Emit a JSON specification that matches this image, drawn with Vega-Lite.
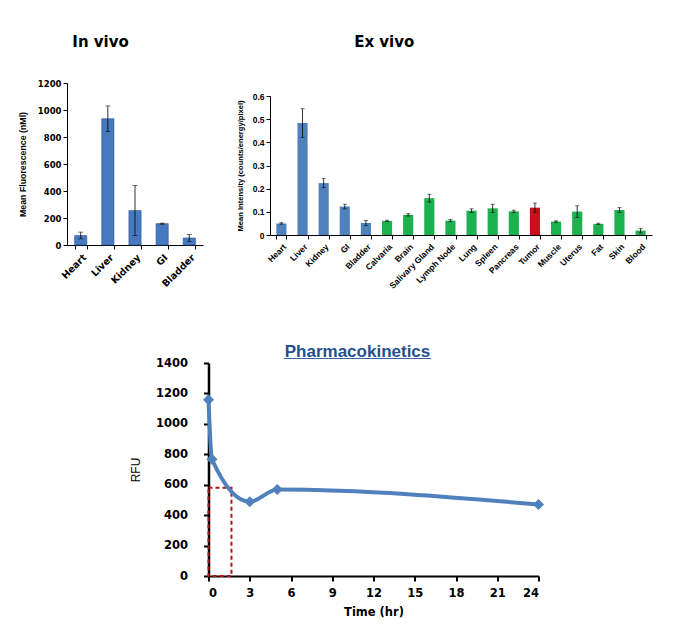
{
  "$schema": "https://vega.github.io/schema/vega-lite/v6.json",
  "background": "white",
  "padding": {"left": 18, "top": 35, "right": 5, "bottom": 5},
  "config": {
    "view": {"stroke": null},
    "font": "Liberation Sans",
    "axis": {"grid": false, "labelOverlap": false, "domainColor": "black", "tickColor": "black", "labelColor": "black", "titleColor": "black", "labelFontWeight": "bold", "titleFontWeight": "bold", "labelFont": "Liberation Sans", "titleFont": "Liberation Sans"}
  },
  "spacing": 53,
  "center": true,
  "vconcat": [
    {
      "spacing": 33,
      "hconcat": [
        {
          "title": {"text": "In vivo", "font": "DejaVu Sans", "fontSize": 15, "fontWeight": "bold", "anchor": "start", "dx": 54, "offset": 29, "color": "black"},
          "width": 136,
          "height": 162,
          "data": {"values": [
            {"organ": "Heart", "value": 70, "err": 25},
            {"organ": "Liver", "value": 935, "err": 95},
            {"organ": "Kidney", "value": 255, "err": 185},
            {"organ": "GI", "value": 158, "err": 4},
            {"organ": "Bladder", "value": 52, "err": 25}
          ]},
          "layer": [
            {
              "mark": {"type": "bar", "color": "#4679c0", "stroke": "#2f5597", "strokeWidth": 0.6},
              "encoding": {
                "x": {"field": "organ", "type": "nominal", "sort": null, "scale": {"paddingInner": 0.55, "paddingOuter": 0.28},
                  "axis": {"title": null, "labelAngle": -45, "tickBand": "extent", "labelFont": "DejaVu Sans", "labelFontSize": 9.5, "tickSize": 4, "labelPadding": 3}},
                "y": {"field": "value", "type": "quantitative", "scale": {"domain": [0, 1200]},
                  "axis": {"title": "Mean Fluorescence (nMl)", "titleFontSize": 8.8, "titlePadding": 10, "values": [0, 200, 400, 600, 800, 1000, 1200], "format": "d", "labelFont": "DejaVu Sans", "labelFontSize": 8.5, "tickSize": 4}}
              }
            },
            {
              "mark": {"type": "errorbar", "ticks": {"size": 5}, "color": "black", "thickness": 0.8},
              "encoding": {
                "x": {"field": "organ", "type": "nominal", "sort": null},
                "y": {"field": "value", "type": "quantitative",
                  "axis": {"title": "Mean Fluorescence (nMl)", "titleFontSize": 8.8, "titlePadding": 10, "values": [0, 200, 400, 600, 800, 1000, 1200], "format": "d", "labelFont": "DejaVu Sans", "labelFontSize": 8.5, "tickSize": 4}},
                "yError": {"field": "err"}
              }
            }
          ]
        },
        {
          "title": {"text": "Ex vivo", "font": "DejaVu Sans", "fontSize": 15, "fontWeight": "bold", "anchor": "start", "dx": 118, "offset": 33, "color": "black"},
          "width": 382,
          "height": 152,
          "resolve": {"axis": {"y": "independent"}},
          "data": {"values": [
            {"organ": "Heart", "value": 0.050, "err": 0.003, "group": "excretory"},
            {"organ": "Liver", "value": 0.483, "err": 0.062, "group": "excretory"},
            {"organ": "Kidney", "value": 0.224, "err": 0.02, "group": "excretory"},
            {"organ": "GI", "value": 0.123, "err": 0.01, "group": "excretory"},
            {"organ": "Bladder", "value": 0.052, "err": 0.011, "group": "excretory"},
            {"organ": "Calvaria", "value": 0.061, "err": 0.003, "group": "tissue"},
            {"organ": "Brain", "value": 0.087, "err": 0.005, "group": "tissue"},
            {"organ": "Salivary Gland", "value": 0.159, "err": 0.017, "group": "tissue"},
            {"organ": "Lymph Node", "value": 0.062, "err": 0.005, "group": "tissue"},
            {"organ": "Lung", "value": 0.105, "err": 0.008, "group": "tissue"},
            {"organ": "Spleen", "value": 0.115, "err": 0.018, "group": "tissue"},
            {"organ": "Pancreas", "value": 0.102, "err": 0.005, "group": "tissue"},
            {"organ": "Tumor", "value": 0.118, "err": 0.02, "group": "tumor"},
            {"organ": "Muscle", "value": 0.058, "err": 0.003, "group": "tissue"},
            {"organ": "Uterus", "value": 0.101, "err": 0.025, "group": "tissue"},
            {"organ": "Fat", "value": 0.048, "err": 0.003, "group": "tissue"},
            {"organ": "Skin", "value": 0.108, "err": 0.01, "group": "tissue"},
            {"organ": "Blood", "value": 0.019, "err": 0.01, "group": "tissue"}
          ]},
          "layer": [
            {
              "mark": {"type": "bar"},
              "encoding": {
                "x": {"field": "organ", "type": "nominal", "sort": null, "scale": {"paddingInner": 0.52, "paddingOuter": 0.3},
                  "axis": {"title": null, "labelAngle": -45, "tickBand": "extent", "labelFontSize": 8.5, "tickSize": 4, "labelPadding": 3}},
                "y": {"field": "value", "type": "quantitative", "scale": {"domain": [0, 0.6], "range": [152, 13]},
                  "axis": {"title": "Mean Intensity (counts/energy/pixel)", "titleFontSize": 7.6, "titlePadding": 8, "values": [0, 0.1, 0.2, 0.3, 0.4, 0.5, 0.6], "format": "~g", "labelFontSize": 8.5, "tickSize": 4}},
                "color": {"field": "group", "type": "nominal", "legend": null,
                  "scale": {"domain": ["excretory", "tissue", "tumor"], "range": ["#4f81bd", "#1db04f", "#c8101a"]}}
              }
            },
            {
              "mark": {"type": "errorbar", "ticks": {"size": 4}, "color": "black", "thickness": 0.8},
              "encoding": {
                "x": {"field": "organ", "type": "nominal", "sort": null},
                "y": {"field": "value", "type": "quantitative", "axis": null},
                "yError": {"field": "err"}
              }
            },
            {
              "mark": {"type": "point", "opacity": 0},
              "encoding": {
                "x": {"field": "organ", "type": "nominal", "sort": null},
                "y": {"field": "value", "type": "quantitative",
                  "axis": {"orient": "right", "title": null, "labels": false, "ticks": false, "domain": true, "domainOpacity": 0, "offset": 36}}
              }
            }
          ]
        }
      ]
    },
    {
      "title": {"text": "Pharmacokinetics", "subtitle": "______________________", "font": "Liberation Sans", "fontSize": 17, "fontWeight": "bold", "color": "#24508f", "subtitleColor": "#24508f", "subtitleFont": "Liberation Sans", "subtitleFontSize": 12, "subtitlePadding": -14, "anchor": "middle", "dx": -16, "offset": -4},
      "width": 330,
      "height": 213,
      "layer": [
        {
          "data": {"values": [{"t0": 0, "t1": 1.67, "r0": 0, "r1": 580}]},
          "mark": {"type": "rect", "fillOpacity": 0, "fill": "white", "stroke": "#b01515", "strokeWidth": 2, "strokeDash": [4, 3]},
          "encoding": {
            "x": {"field": "t0", "type": "quantitative", "scale": {"domain": [0, 24]},
              "axis": {"title": "Time (hr)", "values": [0, 3, 6, 9, 12, 15, 18, 21, 24], "labelFont": "DejaVu Sans", "labelFontSize": 11.5, "titleFont": "DejaVu Sans", "titleFontSize": 11.5, "domainWidth": 2, "tickWidth": 2, "tickSize": 5, "labelPadding": 6, "titlePadding": 8}},
            "x2": {"field": "t1"},
            "y": {"field": "r0", "type": "quantitative", "scale": {"domain": [0, 1400]},
              "axis": {"title": "RFU", "titleFontWeight": "normal", "titleFont": "Liberation Sans", "titleFontSize": 12, "titlePadding": 13, "values": [0, 200, 400, 600, 800, 1000, 1200, 1400], "format": "d", "labelFont": "DejaVu Sans", "labelFontSize": 11.5, "labelPadding": 16, "domainWidth": 2.5, "tickWidth": 2, "tickSize": 5}},
            "y2": {"field": "r1"}
          }
        },
        {
          "data": {"values": [
            {"time": 0, "rfu": 1158},
            {"time": 0.25, "rfu": 767},
            {"time": 3, "rfu": 488},
            {"time": 5, "rfu": 569},
            {"time": 24, "rfu": 470}
          ]},
          "encoding": {
            "x": {"field": "time", "type": "quantitative", "scale": {"domain": [0, 24]},
              "axis": {"title": "Time (hr)", "values": [0, 3, 6, 9, 12, 15, 18, 21, 24], "labelFont": "DejaVu Sans", "labelFontSize": 11.5, "titleFont": "DejaVu Sans", "titleFontSize": 11.5, "domainWidth": 2, "tickWidth": 2, "tickSize": 5, "labelPadding": 6, "titlePadding": 8}},
            "y": {"field": "rfu", "type": "quantitative", "scale": {"domain": [0, 1400]},
              "axis": {"title": "RFU", "titleFontWeight": "normal", "titleFont": "Liberation Sans", "titleFontSize": 12, "titlePadding": 13, "values": [0, 200, 400, 600, 800, 1000, 1200, 1400], "format": "d", "labelFont": "DejaVu Sans", "labelFontSize": 11.5, "labelPadding": 16, "domainWidth": 2.5, "tickWidth": 2, "tickSize": 5}}
          },
          "layer": [
            {"mark": {"type": "line", "interpolate": "monotone", "color": "#4f81bd", "strokeWidth": 4}},
            {"mark": {"type": "point", "shape": "diamond", "filled": true, "size": 120, "color": "#4f81bd", "opacity": 1}}
          ]
        }
      ]
    }
  ]
}
